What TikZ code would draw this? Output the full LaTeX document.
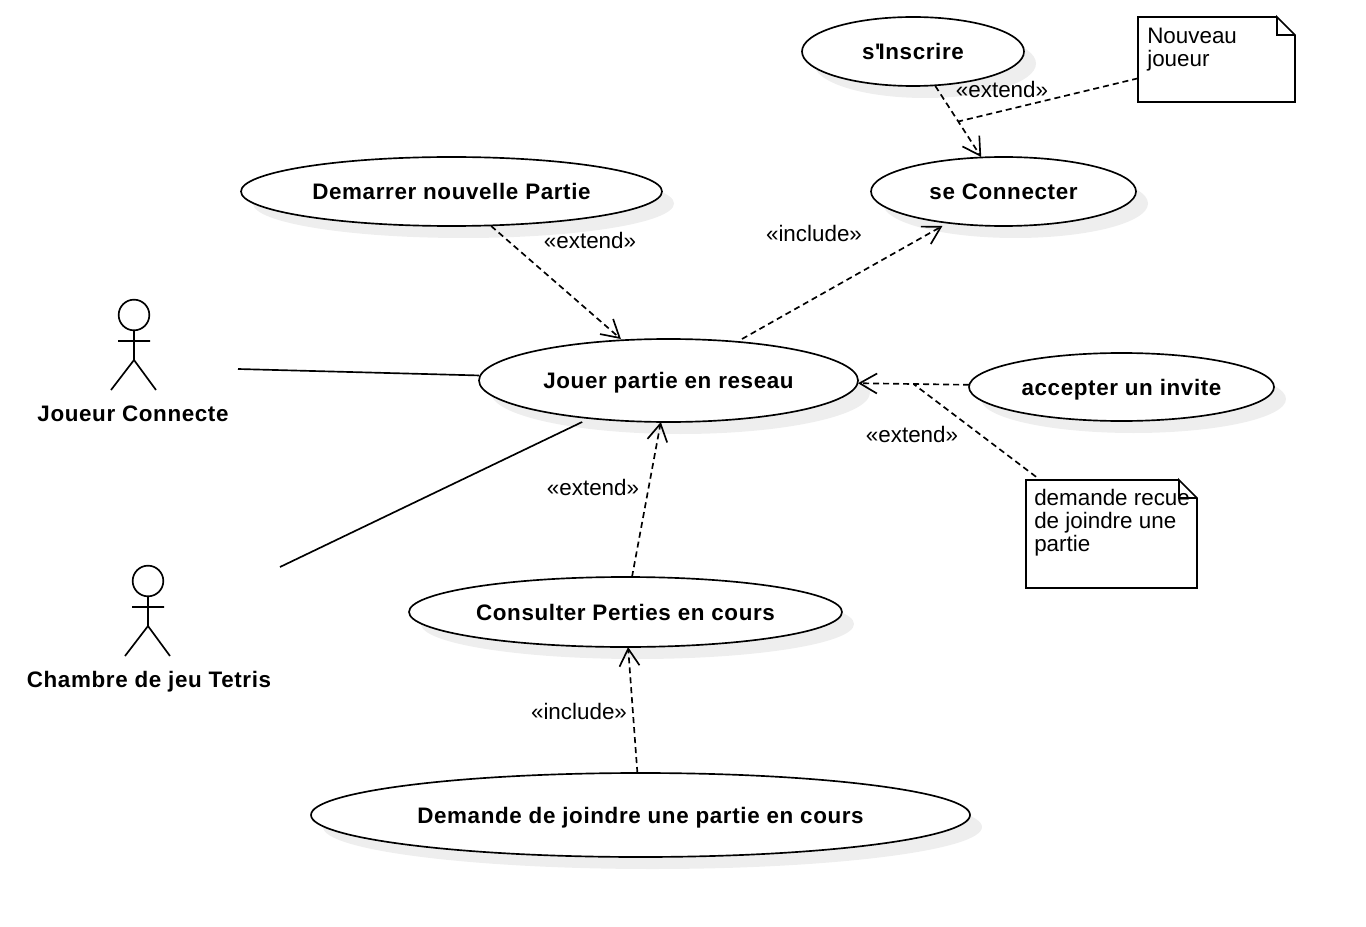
\documentclass[tikz,border=0pt]{standalone}
\usepackage{fontspec}
\setmainfont{Liberation Sans}[Ligatures=TeXOff, BoldFeatures={LetterSpace=2.8}]
\usetikzlibrary{arrows.meta,shapes.geometric,shadows}
\definecolor{shadowgray}{HTML}{EEEEEE}
\tikzset{
    uml/.style={line width=1.25pt, black},
    every node/.style={font=\fontsize{16.8}{17.25}\selectfont, inner sep=0pt},
    boldname/.style={font=\fontsize{16.8}{17.25}\selectfont\bfseries, text height=14pt, text depth=2pt},
    usecase/.style={draw, uml, ellipse, fill=white, boldname,
        drop shadow={shadow xshift=9pt, shadow yshift=-9pt, fill=shadowgray, draw=none, opacity=1}},
    usebox/.style={rectangle, outer sep=0pt},
    notebox/.style={fill=white, rectangle, outer sep=0pt},
    notetext/.style={anchor=north west, align=left},
    dep/.style={uml, dash pattern=on 4.5pt off 3pt},
    deparrow/.style={dep, -{Straight Barb[length=13pt, width=15pt, line width=1.25pt]}},
    actorhead/.style={draw, uml, circle, minimum size=23pt}
}
\newcommand{\usecasenode}[5]{
    \node[usecase, minimum width=#3, minimum height=#4] (#1oval) at (#2) {#5};
    \node[usebox, minimum width=#3, minimum height=#4] (#1) at (#2) {};
}
\begin{document}
\begin{tikzpicture}[x=0.75pt, y=-0.75pt]
    \useasboundingbox (0,0) rectangle (1366,927);
    \usecasenode{inscrire}{913,51.5}{166.5pt}{51.75pt}{s'\kern-1.5pt Inscrire}
    \usecasenode{connecter}{1003.5,191.5}{198.75pt}{51.75pt}{se Connecter}
    \usecasenode{demarrer}{451.5,191.5}{315.75pt}{51.75pt}{Demarrer nouvelle Partie}
    \usecasenode{jouer}{668.5,380.5}{284.25pt}{62.25pt}{Jouer partie en reseau}
    \usecasenode{accepter}{1121.5,387}{228.75pt}{51pt}{accepter un invite}
    \usecasenode{consulter}{625.5,612}{324.75pt}{52.5pt}{Consulter Perties en cours}
    \usecasenode{demande}{640.5,815}{494.25pt}{63pt}{Demande de joindre une partie en cours}

    \node[notebox, minimum width=117.75pt, minimum height=63.75pt] (noteA) at (1216.5,59.5) {};
    \node[notebox, minimum width=128.25pt, minimum height=81pt] (noteB) at (1111.5,534) {};
    \foreach \n in {noteA, noteB}
    \draw[uml] ([xshift=-13.5pt]\n.north east) -- (\n.north west) -- (\n.south west) -- (\n.south east)
        -- ([yshift=-13.5pt]\n.north east) -- ([xshift=-13.5pt]\n.north east) -- ([xshift=-13.5pt, yshift=-13.5pt]\n.north east)
        -- ([yshift=-13.5pt]\n.north east);
    \node[notetext] (textA) at (1147,28) {Nouveau\\joueur};
    \node[notetext] (textB) at (1034,489) {demande recue\\de joindre une\\partie};

    \node[actorhead] (joueur) at (134,315) {};
    \node[actorhead] (chambre) at (148,581) {};
    \foreach \n in {joueur, chambre}
    \draw[uml, shift={(\n)}] (0,15.5) -- (0,45) (-16,26) -- (16,26) (-23,75) -- (0,45) -- (22,75);
    \node[boldname] (joueurlab) at (133,413) {Joueur Connecte};
    \node[boldname] (chambrelab) at (149,679) {Chambre de jeu Tetris};

    \coordinate (joueurend) at (238,369);
    \coordinate (chambreend) at (280,567);
    \draw[uml] (joueurend) -- (jouer);
    \draw[uml] (chambreend) -- (jouer);

    \foreach \i/\j in {demarrer/jouer, jouer/connecter, consulter/jouer, demande/consulter}
    \draw[deparrow] (\i) -- (\j);
    \draw[deparrow] (inscrire) -- coordinate (midA) (connecter);
    \draw[deparrow] (accepter) -- coordinate (midB) (jouer);
    \draw[dep] (noteA) -- (midA);
    \draw[dep, shorten <=4pt] (noteB) -- (midB);

    \node (extA) at (1002,89) {«extend»};
    \node (extB) at (590,240) {«extend»};
    \node (extC) at (912,434) {«extend»};
    \node (extD) at (593,487) {«extend»};
    \node (incA) at (814,233) {«include»};
    \node (incB) at (579,711) {«include»};
\end{tikzpicture}
\end{document}
